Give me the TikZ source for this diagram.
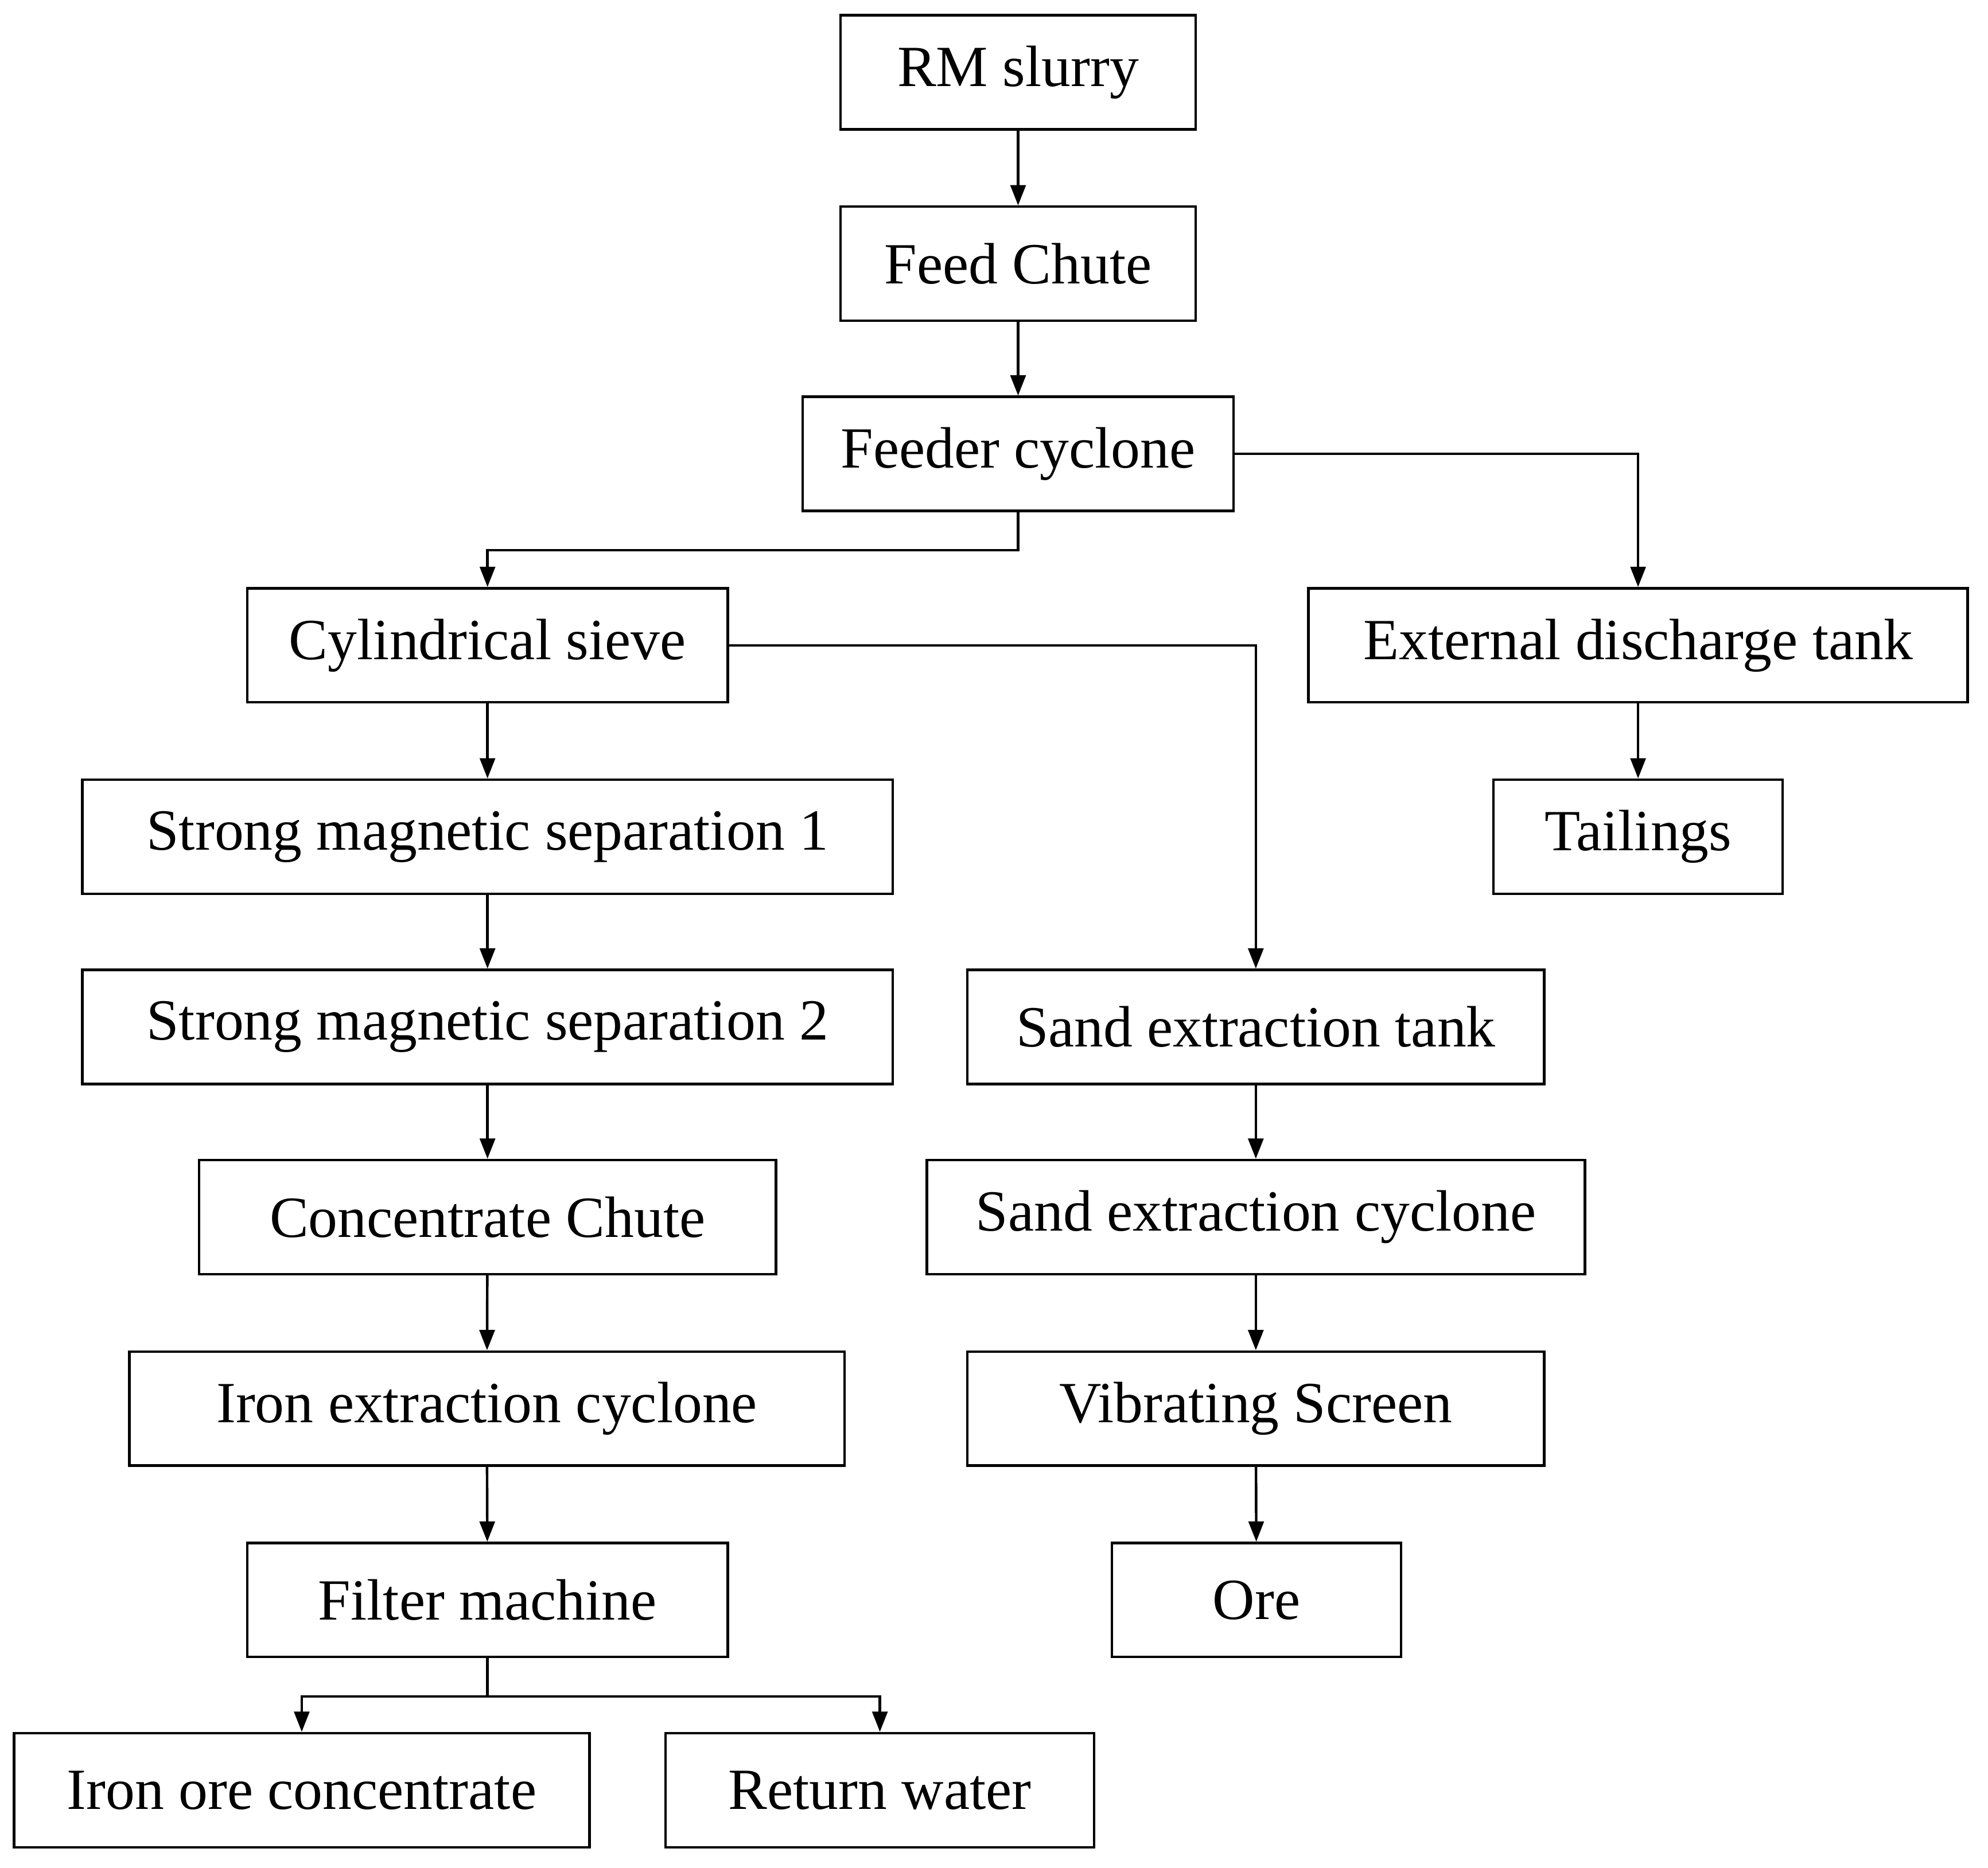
\documentclass[tikz,border=0pt]{standalone}
\usepackage{fontspec}
\setmainfont{Liberation Serif}
\usetikzlibrary{arrows.meta}
\begin{document}
\begin{tikzpicture}[x=0.5pt,y=-0.5pt,
  box/.style={draw,line width=1pt,inner sep=0pt,font=\fontsize{23}{26}\selectfont,minimum height=45pt},
  arr/.style={line width=1pt,-{Triangle[length=8pt,width=6pt]}}]
\useasboundingbox (0,0) rectangle (1568,1473);
\node[box,minimum width=140pt] (rm) at (803,57) {RM slurry};
\node[box,minimum width=140pt] (fc) at (803,208) {Feed Chute};
\node[box,minimum width=170pt] (fcy) at (803,358) {Feeder cyclone};
\node[box,minimum width=189.5pt] (cs) at (384.5,509) {Cylindrical sieve};
\node[box,minimum width=260pt] (edt) at (1292,509) {External discharge tank};
\node[box,minimum width=114pt] (tl) at (1292,660) {Tailings};
\node[box,minimum width=319.5pt] (s1) at (384.5,660) {Strong magnetic separation 1};
\node[box,minimum width=319.5pt] (s2) at (384.5,810) {Strong magnetic separation 2};
\node[box,minimum width=227.5pt] (set) at (990.5,810) {Sand extraction tank};
\node[box,minimum width=227.5pt] (cc) at (384.5,960) {Concentrate Chute};
\node[box,minimum width=259.5pt] (sec) at (990.5,960) {Sand extraction cyclone};
\node[box,minimum width=282pt] (iec) at (384,1111) {Iron extraction cyclone};
\node[box,minimum width=227.5pt] (vs) at (990.5,1111) {Vibrating Screen};
\node[box,minimum width=189.5pt] (fm) at (384.5,1262) {Filter machine};
\node[box,minimum width=114pt] (ore) at (991,1262) {Ore};
\node[box,minimum width=227pt] (ioc) at (238,1412) {Iron ore concentrate};
\node[box,minimum width=169pt] (rw) at (694,1412) {Return water};
\draw[arr] (rm) -- (fc);
\draw[arr] (fc) -- (fcy);
\draw[arr] (fcy.south) -- ++(0,30) -| (cs.north);
\draw[arr] (fcy.east) -| (edt.north);
\draw[arr] (edt) -- (tl);
\draw[arr] (cs.east) -| (set.north);
\draw[arr] (cs) -- (s1);
\draw[arr] (s1) -- (s2);
\draw[arr] (s2) -- (cc);
\draw[arr] (cc) -- (iec);
\draw[arr] (iec) -- (fm);
\draw[arr] (set) -- (sec);
\draw[arr] (sec) -- (vs);
\draw[arr] (vs) -- (ore);
\draw[arr] (fm.south) -- ++(0,30) -| (ioc.north);
\draw[arr] (fm.south) -- ++(0,30) -| (rw.north);
\end{tikzpicture}
\end{document}
